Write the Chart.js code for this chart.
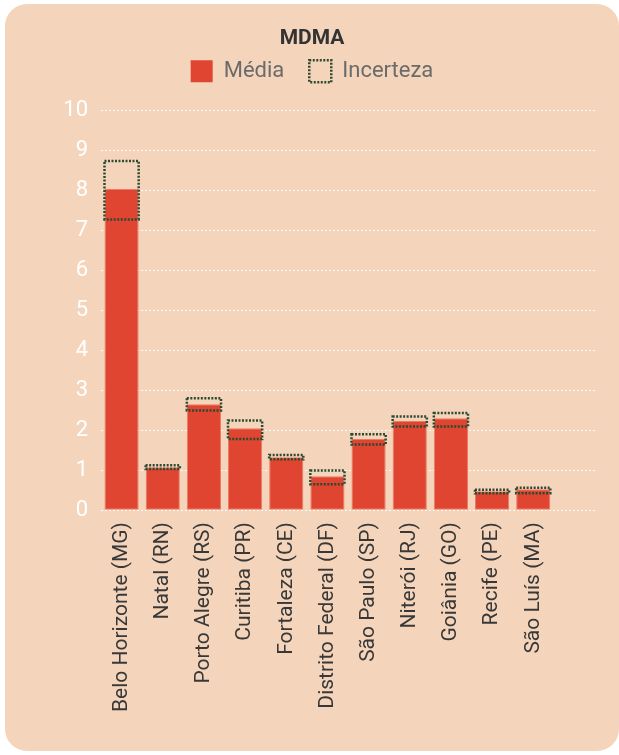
<!DOCTYPE html>
<html>
<head>
<meta charset="utf-8">
<script src="https://cdn.jsdelivr.net/npm/chart.js@4"></script>
<style>
  body { margin: 0; background: #fff; }
  #card {
    position: absolute; left: 5px; top: 4px; width: 614px; height: 747px;
    background: #f4d5bb; border-radius: 22px; overflow: hidden;
  }
  canvas { display: block; }
</style>
</head>
<body>
<div id="card"><canvas id="myChart" width="614" height="747"></canvas></div>
<script>
// Cities along the x-axis (last slot left empty, like the original)
var cities = ["Belo Horizonte (MG)", "Natal (RN)", "Porto Alegre (RS)", "Curitiba (PR)",
  "Fortaleza (CE)", "Distrito Federal (DF)", "São Paulo (SP)", "Niterói (RJ)",
  "Goiânia (GO)", "Recife (PE)", "São Luís (MA)", ""];

// mean values
var media = [8.03, 1.07, 2.65, 2.05, 1.32, 0.85, 1.78, 2.23, 2.30, 0.47, 0.52];

// uncertainty range, low / high
var incLow  = [7.27, 1.03, 2.49, 1.78, 1.27, 0.65, 1.64, 2.09, 2.09, 0.42, 0.42];
var incHigh = [8.73, 1.12, 2.80, 2.24, 1.38, 0.99, 1.90, 2.34, 2.43, 0.51, 0.56];

var yTicks = [0, 1, 2, 3, 4, 5, 6, 7, 8, 9, 10];

var ranges = incLow.map(function (v, i) { return [v, incHigh[i]]; });

// bars can't do dashed borders, so stroke the uncertainty boxes by hand
var dottedBoxes = {
  id: 'dottedBoxes',
  afterDatasetsDraw: function (chart) {
    var meta = chart.getDatasetMeta(0);
    var c = chart.ctx;
    c.save();
    c.strokeStyle = "#2c4a32";
    c.lineWidth = 2.5;
    c.setLineDash([2, 1.5]);
    meta.data.forEach(function (bar) {
      var p = bar.getProps(['x', 'y', 'base', 'width'], true);
      var top = Math.min(p.y, p.base), bot = Math.max(p.y, p.base);
      c.strokeRect(p.x - p.width / 2, top, p.width, bot - top);
    });
    c.restore();
  }
};

// extra room under the legend
var legendMargin = {
  id: 'legendMargin',
  beforeInit: function (chart) {
    var fit = chart.legend.fit;
    chart.legend.fit = function () {
      fit.bind(chart.legend)();
      this.height += 18;
    };
  }
};

Chart.defaults.font.family = "Roboto";

var ctx = document.getElementById("myChart");
var myChart = new Chart(ctx, {
  type: 'bar',
  data: {
    labels: cities,
    datasets: [
      {
        label: "Incerteza",
        data: ranges,
        backgroundColor: "rgba(0,0,0,0)",
        borderColor: "#2c4a32",
        borderWidth: 0,
        grouped: false,
        order: 0,
        barPercentage: 0.83,
        categoryPercentage: 1
      },
      {
        label: "Média",
        data: media,
        backgroundColor: "#df4530",
        borderColor: "#ec7a66",
        borderWidth: 1,
        borderSkipped: false,
        grouped: false,
        order: 1,
        barPercentage: 0.83,
        categoryPercentage: 1
      }
    ]
  },
  options: {
    responsive: false,
    animation: false,
    layout: { padding: { left: 24, right: 24, top: 10, bottom: 35 } },
    plugins: {
      title: {
        display: true,
        text: "MDMA",
        color: "#333",
        font: { size: 21, weight: 'bold' },
        padding: { top: 12, bottom: -16 }
      },
      legend: {
        reverse: true,
        labels: {
          color: "#6b6b6b",
          font: { size: 22 },
          boxWidth: 22,
          boxHeight: 22,
          padding: 25,
          generateLabels: function (chart) {
            var items = Chart.defaults.plugins.legend.labels.generateLabels(chart);
            items.forEach(function (it) {
              if (it.text === "Incerteza") {
                it.lineWidth = 2.5; it.lineDash = [2, 1.5]; it.strokeStyle = "#2c4a32";
              } else { it.lineWidth = 0; }
            });
            return items;
          }
        }
      },
      tooltip: { enabled: false }
    },
    scales: {
      x: {
        grid: { display: false },
        border: { display: false },
        ticks: {
          color: "#383838",
          font: { size: 21 },
          minRotation: 90,
          maxRotation: 90,
          autoSkip: false,
          padding: 4
        }
      },
      y: {
        min: 0,
        max: 10,
        afterBuildTicks: function (axis) {
          axis.ticks = yTicks.map(function (v) { return { value: v }; });
        },
        afterFit: function (axis) { axis.width = 72; },
        grid: { color: "rgba(255,255,255,0.85)", tickLength: 0, lineWidth: 1 },
        border: { display: false, dash: [2, 2] },
        ticks: { color: "#ffffff", font: { size: 22 }, padding: 13 }
      }
    }
  },
  plugins: [dottedBoxes, legendMargin]
});
</script>
</body>
</html>
